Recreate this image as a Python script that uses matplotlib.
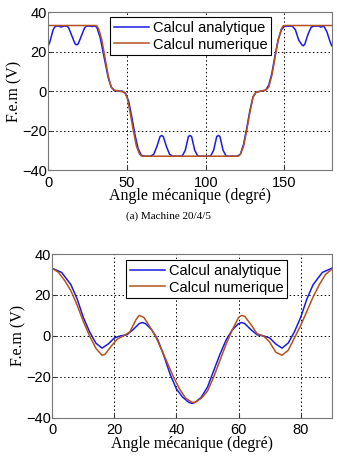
import matplotlib
matplotlib.use("Agg")
import matplotlib.pyplot as plt

# ---- Data: Machine 20/4/5 (top) ----
top_num_x = [0, 30, 31, 32, 34, 36, 38, 40, 42, 45, 48, 49, 50, 52, 54, 56, 58, 59, 60,
             120, 121, 122, 124, 126, 128, 130, 131, 132, 135, 138, 140, 142, 144, 146, 148, 149, 150, 180]
top_num_y = [33.3, 33.3, 33, 31.5, 26, 17, 8, 2, 0.5, 0, -0.5, -1.5, -3, -11, -20, -28, -32, -32.8, -33,
             -33, -32.8, -32, -28, -20, -11, -3, -1.5, -0.5, 0, 0.5, 2, 8, 17, 26, 31.5, 33, 33.3, 33.3]

top_ana_x = [0, 1, 2, 3, 4, 5, 7, 8, 10, 12, 13, 15, 17, 18, 19, 21, 23, 24, 26, 28, 30,
             31, 33, 35, 36, 38, 40, 42, 45, 47, 49, 51, 53, 55, 57, 59, 61,
             65, 67, 69, 71, 72, 73, 75, 77, 79, 85, 87, 89, 90, 91, 93, 95,
             103, 105, 107, 108, 109, 111, 113, 120, 122, 124, 126, 128, 130, 132, 135, 138,
             140, 142, 144, 146, 148, 150, 155, 157, 159, 161, 162, 163, 165, 167, 169,
             172, 173, 175, 177, 179, 180]
top_ana_y = [23, 25, 28, 31, 32.5, 33, 33, 32.5, 33, 33, 32, 28, 24, 23.5, 24, 28, 32, 33, 33, 32.8, 33,
             32, 27, 19, 15, 7, 2, 0.3, 0, 0, -1, -5, -13, -22, -29, -32.5, -33,
             -33, -32, -28, -23, -22.5, -23, -28, -32, -33, -33, -30, -23, -22.5, -23, -30, -33,
             -33, -30, -23, -22.5, -23, -30, -33, -33, -32, -27, -19, -10, -3, -0.5, 0, 0.5,
             3, 9, 18, 26, 31, 33, 33, 31, 26, 23.5, 23, 24, 29, 32.5, 33,
             33, 32.5, 33, 30, 25, 23]

# ---- Data: bottom machine ----
bot_ana_x = [0, 3, 6, 8, 10, 12, 14, 16, 18, 20, 22, 24, 26, 28, 29, 30, 32, 34, 36, 38, 40, 42, 44, 45,
             46, 48, 50, 52, 54, 56, 58, 60, 61, 62, 64, 66, 68, 70, 72, 74, 76, 78, 80, 82, 84, 87, 90]
bot_ana_y = [33, 31, 25, 18, 9, 2, -3.5, -6, -4, -1, 0, 0.5, 3, 6, 6.5, 6, 3, -2, -10, -19, -26, -30, -32.5, -33,
             -32.5, -30, -25, -17, -9, -2, 3, 6, 6.5, 6, 3, 0.5, 0, -1, -4, -6, -3.5, 2, 9, 18, 25, 31, 33]

bot_num_x = [0, 2, 4, 6, 8, 10, 12, 14, 16, 17, 19, 21, 23, 25, 27, 28, 29.5, 31, 33, 35, 37, 39, 41, 43, 45,
             46, 48, 50, 52, 54, 56, 58, 60, 61, 62, 64, 66, 68, 70, 72, 74, 76, 78, 80, 82, 84, 86, 88, 90]
bot_num_y = [33, 31, 27, 22, 15, 7, 0, -6, -9.5, -9, -5, -1.5, 0, 2, 8, 10, 9, 5.5, 0.5, -6, -13, -20, -26, -30.5, -32.5,
             -32.5, -30.5, -27, -20, -12, -4, 3, 9, 10, 9.5, 5.5, 1, 0, -3, -8, -9.5, -7, -1, 5, 12, 19, 25, 30, 32.5]

yticks = [-40, -20, 0, 20, 40]
top_xticks = [0, 50, 100, 150]
bot_xticks = [0, 20, 40, 60, 80]
labels = ["Calcul analytique", "Calcul numerique"]
xlabel = "Angle mécanique (degré)"
ylabel = "F.e.m (V)"
caption = "(a) Machine 20/4/5"

BLUE = "#1a1ae6"
BROWN = "#b4521e"
W, H = 337, 462
fig = plt.figure(figsize=(W / 100, H / 100), dpi=100)

sans = ["Liberation Sans", "DejaVu Sans"]
serif = ["Liberation Serif", "DejaVu Serif"]


def style(ax, xlim, xticks):
    ax.set_xlim(*xlim)
    ax.set_ylim(-40, 40)
    ax.set_xticks(xticks)
    ax.set_yticks(yticks)
    ax.grid(True, linestyle=(0, (1.5, 2.5)), color="black", linewidth=0.7)
    ax.tick_params(direction="in", length=3, labelsize=10.5, colors="#333333",
                   labelcolor="black")
    ax.tick_params(axis="y", pad=1)
    ax.tick_params(axis="x", pad=4)
    for lab in ax.get_xticklabels() + ax.get_yticklabels():
        lab.set_family(sans)
    for s in ax.spines.values():
        s.set_color("#777777")
        s.set_linewidth(0.8)
    ax.set_xlabel(xlabel, family=serif, fontsize=11.5, labelpad=-1)
    ax.set_ylabel(ylabel, family=serif, fontsize=11.5, labelpad=0)


def px_axes(l, t, r, b):
    return fig.add_axes([l / W, 1 - b / H, (r - l) / W, (b - t) / H])


ax1 = px_axes(48.3, 12.3, 331.7, 170)
ax1.plot(top_ana_x, top_ana_y, color=BLUE, lw=1.1, label=labels[0])
ax1.plot(top_num_x, top_num_y, color=BROWN, lw=1.1, label=labels[1])
style(ax1, (0, 180), top_xticks)
leg1 = ax1.legend(loc="upper left", bbox_to_anchor=((110 - 48.3) / 283.4, (170 - 17) / 157.7),
                  prop={"family": sans, "size": 10.5}, fancybox=False, framealpha=1,
                  edgecolor="black", handlelength=2.4, borderpad=0.25, labelspacing=0.2,
                  handletextpad=0.3, borderaxespad=0)
leg1.get_frame().set_linewidth(0.8)

fig.text(168 / W, 1 - 216 / H, caption, family=serif, fontsize=8, ha="center", va="center")

ax2 = px_axes(52.3, 254, 331.7, 417.7)
ax2.plot(bot_ana_x, bot_ana_y, color=BLUE, lw=1.1, label=labels[0])
ax2.plot(bot_num_x, bot_num_y, color=BROWN, lw=1.1, label=labels[1])
style(ax2, (0, 90), bot_xticks)
leg2 = ax2.legend(loc="upper left", bbox_to_anchor=((126 - 52.3) / 279.4, (417.7 - 260) / 163.7),
                  prop={"family": sans, "size": 10.5}, fancybox=False, framealpha=1,
                  edgecolor="black", handlelength=2.4, borderpad=0.25, labelspacing=0.2,
                  handletextpad=0.3, borderaxespad=0)
leg2.get_frame().set_linewidth(0.8)

fig.savefig("out.png", dpi=100)
